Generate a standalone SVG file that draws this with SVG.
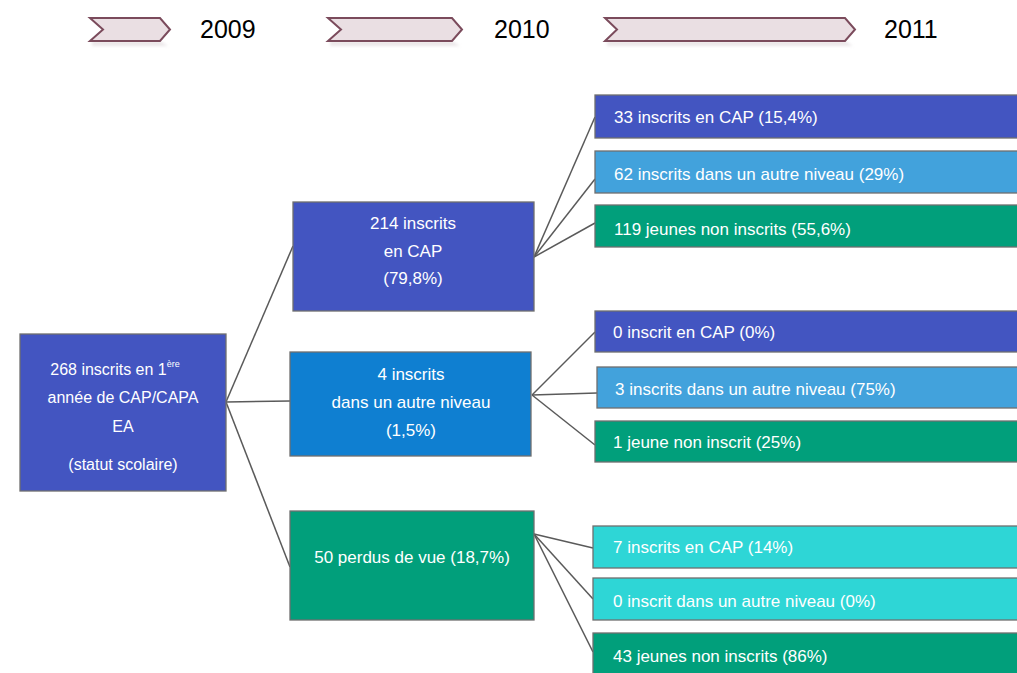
<svg xmlns="http://www.w3.org/2000/svg" width="1017" height="673" viewBox="0 0 1017 673">
<defs>
<style>
.chev{fill:#eadfe3;stroke:#7b4b5c;stroke-width:2;stroke-linejoin:miter}
.shadow{fill:#d8cfd3;opacity:0.5}
.year{font-family:"Liberation Sans",Arial,sans-serif;font-size:25px;fill:#000}
.box{stroke:#6f6f6f;stroke-width:1.3}
.t{font-family:"Liberation Sans",Arial,sans-serif;font-size:17px;fill:#fff}
.tc{font-family:"Liberation Sans",Arial,sans-serif;font-size:17px;fill:#fff;text-anchor:middle}
.root{font-family:"Liberation Sans",Arial,sans-serif;font-size:16px;fill:#fff;text-anchor:middle}
.dblue{fill:#4355c1}
.mblue{fill:#0f7fd1}
.lblue{fill:#42a2dc}
.green{fill:#019f7b}
.turq{fill:#2ed6d6}
.conn{stroke:#5a5a5a;stroke-width:1.5;fill:none}
</style>
<filter id="blur" x="-10%" y="-50%" width="120%" height="200%"><feGaussianBlur stdDeviation="1.5"/></filter>
</defs>

<g id="timeline">
<g id="arrow2009">
<polygon class="shadow" filter="url(#blur)" points="92,41 160,41 168,46 92,46"/>
<polygon class="chev" points="90,18 160,18 170,29.5 160,41 90,41 103,29.5"/>
<text class="year" x="200" y="38">2009</text>
</g>
<g id="arrow2010">
<polygon class="shadow" filter="url(#blur)" points="330,41 452,41 460,46 330,46"/>
<polygon class="chev" points="328,18 452,18 462,29.5 452,41 328,41 341,29.5"/>
<text class="year" x="494" y="38">2010</text>
</g>
<g id="arrow2011">
<polygon class="shadow" filter="url(#blur)" points="607,41 845,41 853,46 607,46"/>
<polygon class="chev" points="605,18 845,18 855,29.5 845,41 605,41 617,29.5"/>
<text class="year" x="884" y="38">2011</text>
</g>
</g>

<g id="connectors">
<line class="conn" x1="226" y1="402" x2="293" y2="246"/>
<line class="conn" x1="226" y1="402" x2="290" y2="401"/>
<line class="conn" x1="226" y1="402" x2="290" y2="567"/>
<line class="conn" x1="534" y1="257" x2="595" y2="117"/>
<line class="conn" x1="534" y1="257" x2="595" y2="179"/>
<line class="conn" x1="534" y1="257" x2="595" y2="223"/>
<line class="conn" x1="532" y1="395" x2="595" y2="332"/>
<line class="conn" x1="532" y1="395" x2="597" y2="393"/>
<line class="conn" x1="532" y1="395" x2="595" y2="445"/>
<line class="conn" x1="534" y1="534" x2="593" y2="548"/>
<line class="conn" x1="534" y1="534" x2="593" y2="599"/>
<line class="conn" x1="534" y1="534" x2="593" y2="652"/>
</g>

<g id="root">
<rect class="box dblue" x="20" y="334" width="206" height="157"/>
<text class="root" x="115" y="375">268 inscrits en 1<tspan font-size="9" dy="-8">ère</tspan></text>
<text class="root" x="123" y="403">année de CAP/CAPA</text>
<text class="root" x="123" y="432">EA</text>
<text class="root" x="123" y="470">(statut scolaire)</text>
</g>

<g id="n214">
<rect class="box dblue" x="293" y="202" width="241" height="109"/>
<text class="tc" x="413" y="229">214 inscrits</text>
<text class="tc" x="413" y="257">en CAP</text>
<text class="tc" x="413" y="284">(79,8%)</text>
</g>

<g id="n4">
<rect class="box mblue" x="290" y="352" width="241" height="104"/>
<text class="tc" x="411" y="380">4 inscrits</text>
<text class="tc" x="411" y="408">dans un autre niveau</text>
<text class="tc" x="411" y="436">(1,5%)</text>
</g>

<g id="n50">
<rect class="box green" x="290" y="511" width="244" height="109"/>
<text class="tc" x="412" y="563">50 perdus de vue (18,7%)</text>
</g>

<g id="a1">
<rect class="box dblue" x="595" y="95" width="430" height="43"/>
<text class="t" x="614" y="123">33 inscrits en CAP (15,4%)</text>
</g>
<g id="a2">
<rect class="box lblue" x="595" y="151" width="430" height="42"/>
<text class="t" x="614" y="180">62 inscrits dans un autre niveau (29%)</text>
</g>
<g id="a3">
<rect class="box green" x="595" y="205" width="430" height="42"/>
<text class="t" x="614" y="235">119 jeunes non inscrits (55,6%)</text>
</g>

<g id="b1">
<rect class="box dblue" x="595" y="311" width="430" height="41"/>
<text class="t" x="613" y="338">0 inscrit en CAP (0%)</text>
</g>
<g id="b2">
<rect class="box lblue" x="597" y="367" width="430" height="41"/>
<text class="t" x="615" y="395">3 inscrits dans un autre niveau (75%)</text>
</g>
<g id="b3">
<rect class="box green" x="595" y="421" width="430" height="41"/>
<text class="t" x="613" y="448">1 jeune non inscrit (25%)</text>
</g>

<g id="c1">
<rect class="box turq" x="593" y="526" width="430" height="42"/>
<text class="t" x="613" y="553">7 inscrits en CAP (14%)</text>
</g>
<g id="c2">
<rect class="box turq" x="593" y="578" width="430" height="42"/>
<text class="t" x="613" y="607">0 inscrit dans un autre niveau (0%)</text>
</g>
<g id="c3">
<rect class="box green" x="593" y="633" width="430" height="50"/>
<text class="t" x="613" y="662">43 jeunes non inscrits (86%)</text>
</g>
</svg>
